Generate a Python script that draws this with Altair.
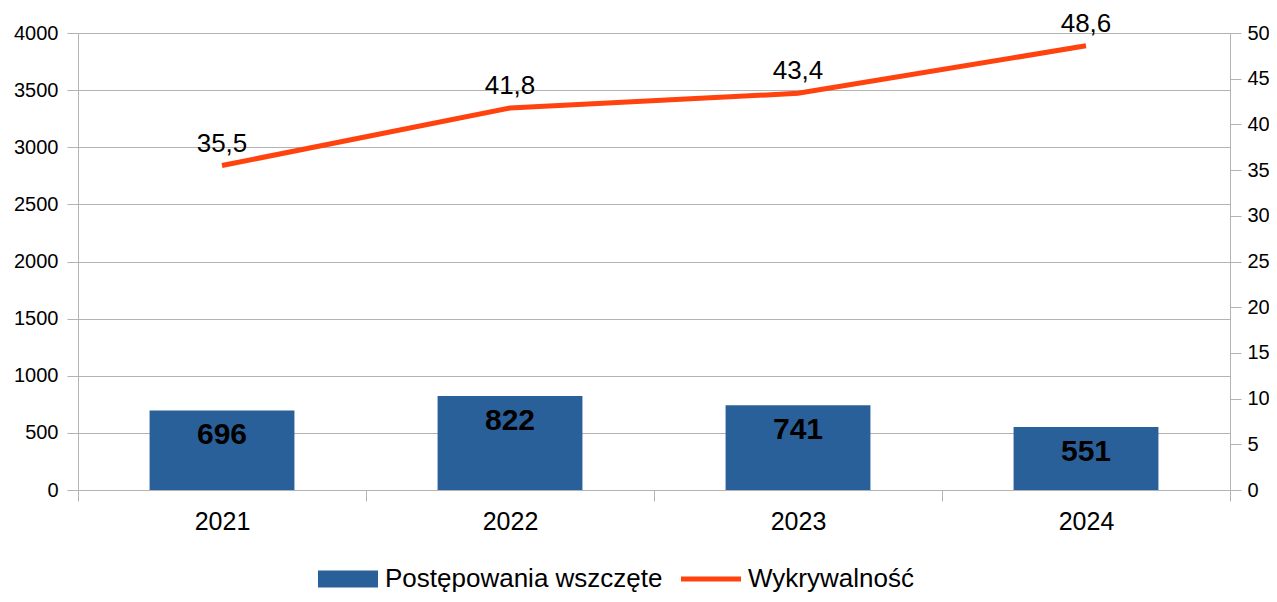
import altair as alt
import pandas as pd

years = ["2021", "2022", "2023", "2024"]
cases = [696, 822, 741, 551]
rate = [35.5, 41.8, 43.4, 48.6]
series = ["Postępowania wszczęte", "Wykrywalność"]
colors = ["#2a6099", "#ff420e"]
left_ticks = [0, 500, 1000, 1500, 2000, 2500, 3000, 3500, 4000]
right_ticks = [0, 5, 10, 15, 20, 25, 30, 35, 40, 45, 50]

df = pd.DataFrame({"year": years, "cases": cases, "rate": rate})

FONT = "Liberation Sans"
GRAY = "#b3b3b3"

x_enc = alt.X(
    "year:N",
    scale=alt.Scale(paddingInner=0, paddingOuter=0),
    axis=alt.Axis(
        title=None, labelAngle=0, labelFontSize=25, labelPadding=8,
        tickBand="extent", tickSize=11, tickColor=GRAY, domainColor=GRAY,
        labelColor="black", grid=False, labelFont=FONT,
    ),
)

legend = alt.Legend(
    title=None, orient="none", legendX=240, legendY=516, direction="horizontal",
    labelFontSize=26, labelFont=FONT, labelColor="black", labelLimit=500,
    symbolSize=3600, labelOffset=7, columnPadding=18, symbolStrokeWidth=0,
    symbolOpacity=1,
    symbolType={"expr": "datum.value == '" + series[1] + "' ? 'M-1,-0.08H1V0.08H-1Z' : 'M-1,-0.28H1V0.28H-1Z'"},
    symbolFillColor={"expr": "scale('color', datum.value)"},
)
color_scale = alt.Scale(domain=series, range=colors)

y_left = alt.Y(
    "cases:Q",
    scale=alt.Scale(domain=[0, 4000], nice=False),
    axis=alt.Axis(
        title=None, values=left_ticks, format="d", tickSize=11, labelFontSize=20,
        labelPadding=9, grid=True, gridColor=GRAY, domainColor=GRAY, tickColor=GRAY,
        labelColor="black", labelFont=FONT, orient="left",
    ),
)
y_right = alt.Y(
    "rate:Q",
    scale=alt.Scale(domain=[0, 50], nice=False),
    axis=alt.Axis(
        title=None, values=right_ticks, format="d", tickSize=11, labelFontSize=20,
        labelPadding=6, grid=False, domainColor=GRAY, tickColor=GRAY,
        labelColor="black", labelFont=FONT, orient="right",
    ),
)

base = alt.Chart(df)

bars = base.mark_bar(width={"band": 0.503}).transform_calculate(
    series="'" + series[0] + "'"
).encode(
    x=x_enc, y=y_left,
    color=alt.Color("series:N", scale=color_scale, legend=legend),
)
bar_text = base.mark_text(
    baseline="middle", dy=25, fontSize=30, fontWeight="bold", font=FONT, color="black"
).encode(x=x_enc, y=y_left, text="cases:Q")

line = base.mark_line(strokeWidth=5).transform_calculate(
    series="'" + series[1] + "'"
).encode(
    x=x_enc, y=y_right,
    color=alt.Color("series:N", scale=color_scale, legend=legend),
)
line_text = base.mark_text(
    baseline="middle", dy=-22, fontSize=26, font=FONT, color="black"
).transform_calculate(
    label="replace(format(datum.rate, '.1f'), '.', ',')"
).encode(x=x_enc, y=y_right, text="label:N")

left = alt.layer(bars, bar_text)
right = alt.layer(line, line_text)

chart = alt.layer(left, right).resolve_scale(y="independent").properties(
    width=1152, height=457,
    autosize=alt.AutoSizeParams(type="none"),
    padding={"left": 70, "top": 25, "right": 39, "bottom": 104},
).configure(font=FONT).configure_view(strokeWidth=0)

chart.save("out.html", embed_options={"renderer": "svg", "actions": False})
